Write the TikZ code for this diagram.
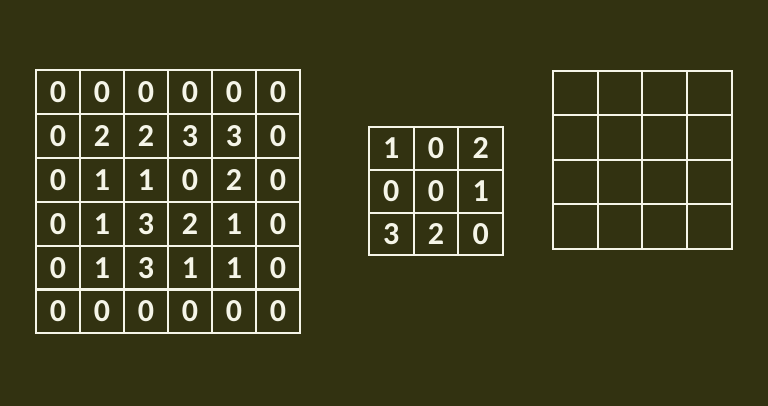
\documentclass[tikz,border=0pt]{standalone}
\usepackage{fontspec}
\newfontfamily\digitfont[BoldFont={Carlito Bold}]{Carlito}
\definecolor{fondo}{RGB}{50,50,17}
\definecolor{linea}{RGB}{245,245,232}
\tikzset{
  cell/.style={draw=linea, line width=2pt, minimum width=44pt, minimum height=44pt,
    inner sep=0pt, text=linea, font=\digitfont\fontsize{32}{32}\selectfont\bfseries},
  kcell/.style={cell, minimum width=44.7pt, minimum height=42.8pt},
  scell/.style={cell, minimum width=44.7pt, minimum height=44.5pt}
}
\begin{document}
\begin{tikzpicture}[x=1pt, y=-1pt]
    \fill[fondo] (0,0) rectangle (768,406);
    \useasboundingbox (0,0) rectangle (768,406);

    % Imagen de entrada
    \node[cell] (a11) at (58, 92) {0};
    \node[cell] (a12) at (102, 92) {0};
    \node[cell] (a13) at (146, 92) {0};
    \node[cell] (a14) at (190, 92) {0};
    \node[cell] (a15) at (234, 92) {0};
    \node[cell] (a16) at (278, 92) {0};

    \node[cell] (a21) at (58, 136) {0};
    \node[cell] (a22) at (102, 136) {2};
    \node[cell] (a23) at (146, 136) {2};
    \node[cell] (a24) at (190, 136) {3};
    \node[cell] (a25) at (234, 136) {3};
    \node[cell] (a26) at (278, 136) {0};

    \node[cell] (a31) at (58, 180) {0};
    \node[cell] (a32) at (102, 180) {1};
    \node[cell] (a33) at (146, 180) {1};
    \node[cell] (a34) at (190, 180) {0};
    \node[cell] (a35) at (234, 180) {2};
    \node[cell] (a36) at (278, 180) {0};

    \node[cell] (a41) at (58, 224) {0};
    \node[cell] (a42) at (102, 224) {1};
    \node[cell] (a43) at (146, 224) {3};
    \node[cell] (a44) at (190, 224) {2};
    \node[cell] (a45) at (234, 224) {1};
    \node[cell] (a46) at (278, 224) {0};

    \node[cell] (a51) at (58, 268) {0};
    \node[cell] (a52) at (102, 268) {1};
    \node[cell] (a53) at (146, 268) {3};
    \node[cell] (a54) at (190, 268) {1};
    \node[cell] (a55) at (234, 268) {1};
    \node[cell] (a56) at (278, 268) {0};

    \node[cell] (a61) at (58, 311) {0};
    \node[cell] (a62) at (102, 311) {0};
    \node[cell] (a63) at (146, 311) {0};
    \node[cell] (a64) at (190, 311) {0};
    \node[cell] (a65) at (234, 311) {0};
    \node[cell] (a66) at (278, 311) {0};

    % Kernel
    \node[kcell] (k11) at (391.3, 148.4) {1};
    \node[kcell] (k12) at (436, 148.4) {0};
    \node[kcell] (k13) at (480.7, 148.4) {2};

    \node[kcell] (k21) at (391.3, 191.2) {0};
    \node[kcell] (k22) at (436, 191.2) {0};
    \node[kcell] (k23) at (480.7, 191.2) {1};

    \node[kcell] (k31) at (391.3, 234) {3};
    \node[kcell] (k32) at (436, 234) {2};
    \node[kcell] (k33) at (480.7, 234) {0};

    % Salida
    \node[scell] (s11) at (575.3, 93.2) {};
    \node[scell] (s12) at (620, 93.2) {};
    \node[scell] (s13) at (664.6, 93.2) {};
    \node[scell] (s14) at (709.3, 93.2) {};

    \node[scell] (s21) at (575.3, 137.7) {};
    \node[scell] (s22) at (620, 137.7) {};
    \node[scell] (s23) at (664.6, 137.7) {};
    \node[scell] (s24) at (709.3, 137.7) {};

    \node[scell] (s31) at (575.3, 182.2) {};
    \node[scell] (s32) at (620, 182.2) {};
    \node[scell] (s33) at (664.6, 182.2) {};
    \node[scell] (s34) at (709.3, 182.2) {};

    \node[scell] (s41) at (575.3, 226.7) {};
    \node[scell] (s42) at (620, 226.7) {};
    \node[scell] (s43) at (664.6, 226.7) {};
    \node[scell] (s44) at (709.3, 226.7) {};
\end{tikzpicture}
\end{document}
